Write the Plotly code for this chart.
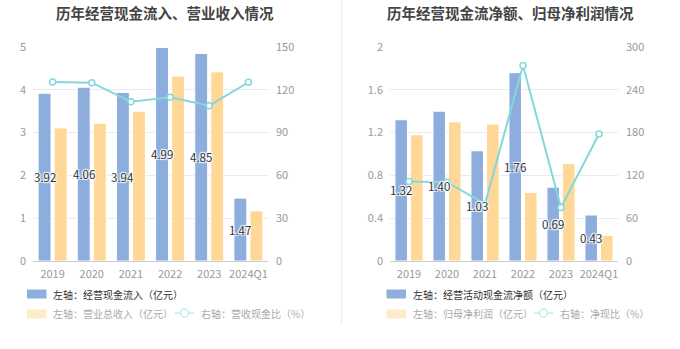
import plotly.graph_objects as go

W, H = 680, 349
FONT = "Noto Sans CJK SC, sans-serif"

categories = ["2019", "2020", "2021", "2022", "2023", "2024Q1"]

# Left chart
cash_inflow = [3.92, 4.06, 3.94, 4.99, 4.85, 1.47]
revenue = [3.11, 3.22, 3.50, 4.32, 4.42, 1.17]
cash_rev_ratio = [125.5, 125.0, 111.7, 114.7, 108.9, 125.3]

# Right chart
net_cash = [1.32, 1.40, 1.03, 1.76, 0.69, 0.43]
net_profit = [1.18, 1.30, 1.28, 0.64, 0.91, 0.24]
net_ratio = [111.5, 110.5, 80.0, 274.0, 75.0, 178.0]

left_y_ticks = [0, 1, 2, 3, 4, 5]
left_y2_ticks = [0, 30, 60, 90, 120, 150]
right_y_ticks = [0, 0.4, 0.8, 1.2, 1.6, 2]
right_y2_ticks = [0, 60, 120, 180, 240, 300]

BLUE = "#8DAEDD"
ORANGE = "#FFD897"
TEAL = "#84D8DB"
HALO = "1px 1px 1px #fff, -1px -1px 1px #fff, 1px -1px 1px #fff, -1px 1px 1px #fff"

fig = go.Figure()
annotations = []

def add_chart(xa, ya, ya2, bars, bars2, line, shift):
    fig.add_trace(go.Bar(
        x=categories, y=bars, xaxis=xa, yaxis=ya,
        offset=-0.37, width=0.33,
        marker=dict(color=BLUE, line=dict(color="#fff", width=1)),
        showlegend=False, hoverinfo="skip"))
    fig.add_trace(go.Bar(
        x=categories, y=bars2, xaxis=xa, yaxis=ya,
        offset=0.04, width=0.33,
        marker=dict(color=ORANGE, line=dict(color="#fff", width=1)),
        showlegend=False, hoverinfo="skip"))
    fig.add_trace(go.Scatter(
        x=categories, y=line, xaxis=xa, yaxis=ya2, mode="lines+markers",
        line=dict(color=TEAL, width=2),
        marker=dict(symbol="circle", size=6, color="#fff",
                    line=dict(color=TEAL, width=1.5)),
        showlegend=False, hoverinfo="skip"))
    for i, v in enumerate(bars):
        annotations.append(dict(
            xref=xa, yref=ya, x=i, y=v / 2, xshift=shift, text=f"{v:.2f}",
            showarrow=False, xanchor="center", yanchor="middle",
            font=dict(color="#333", size=11.5, family=FONT, shadow=HALO)))

add_chart("x", "y", "y2", cash_inflow, revenue, cash_rev_ratio, -8)
add_chart("x2", "y3", "y4", net_cash, net_profit, net_ratio, -7.7)

ydom = [1 - 261 / H, 1 - 47 / H]
tickfont = dict(color="#999", size=11, family=FONT)
grid = "#E6EAF3"

def xax(dom, anchor):
    return dict(domain=dom, anchor=anchor, type="category", showline=True,
                categoryorder="array", categoryarray=categories,
                range=[-0.5, len(categories) - 0.5], autorange=False,
                linecolor="#ccc", linewidth=1, ticks="", tickfont=tickfont,
                showgrid=False, fixedrange=True, automargin=False,
                ticklabelstandoff=3)

def yax(anchor, vals, rng, side="left", overlay=None):
    d = dict(anchor=anchor, range=rng, autorange=False, tickvals=vals, tickfont=tickfont,
             showline=False, zeroline=False, ticks="", side=side,
             fixedrange=True, automargin=False,
             ticklabelstandoff=6 if side == "left" else 7)
    if overlay:
        d.update(overlaying=overlay, showgrid=False)
    else:
        d.update(domain=ydom, showgrid=True, gridcolor=grid, gridwidth=1)
    return d

fig.update_layout(
    width=W, height=H, margin=dict(l=0, r=0, t=0, b=0, autoexpand=False),
    paper_bgcolor="#fff", plot_bgcolor="#fff",
    barmode="overlay",
    font=dict(family=FONT),
    xaxis=xax([33 / W, 268 / W], "y"),
    yaxis=yax("x", left_y_ticks, [0, 5]),
    yaxis2=yax("x", left_y2_ticks, [0, 150], side="right", overlay="y"),
    xaxis2=xax([390 / W, 618 / W], "y3"),
    yaxis3=yax("x2", right_y_ticks, [0, 2]),
    yaxis4=yax("x2", right_y2_ticks, [0, 300], side="right", overlay="y3"),
)

def px(x):
    return x / W

def py(y):
    return 1 - y / H

shapes = [dict(type="line", xref="paper", yref="paper", x0=px(341.5), x1=px(341.5),
               y0=py(0), y1=py(325), line=dict(color="#F3F3F3", width=2))]

# Titles
for cx, t in [(165, "历年经营现金流入、营业收入情况"), (510, "历年经营现金流净额、归母净利润情况")]:
    annotations.append(dict(xref="paper", yref="paper", x=px(cx), y=py(12),
                            text=f"<b>{t}</b>", showarrow=False, xanchor="center",
                            yanchor="middle", font=dict(size=14.5, color="#444", family=FONT)))

def legend(x0, row1, row2_rect, row2_line):
    shapes.append(dict(type="rect", xref="paper", yref="paper",
                       x0=px(x0), x1=px(x0 + 19.5), y0=py(298.5), y1=py(289.5),
                       fillcolor="#8FB0DE", line=dict(width=0), layer="above"))
    annotations.append(dict(xref="paper", yref="paper", x=px(x0 + 24), y=py(294),
                            text=row1, showarrow=False, xanchor="left", yanchor="middle",
                            font=dict(size=10, color="#333", family=FONT)))
    shapes.append(dict(type="rect", xref="paper", yref="paper",
                       x0=px(x0), x1=px(x0 + 19.5), y0=py(318.5), y1=py(309.5),
                       fillcolor="#FFEBCB", line=dict(width=0), layer="above"))
    annotations.append(dict(xref="paper", yref="paper", x=px(x0 + 24), y=py(313.5),
                            text=row2_rect, showarrow=False, xanchor="left", yanchor="middle",
                            font=dict(size=10, color="#aaa", family=FONT)))
    lx = row2_line[0]
    shapes.append(dict(type="line", xref="paper", yref="paper",
                       x0=px(lx), x1=px(lx + 19), y0=py(313), y1=py(313),
                       line=dict(color="#BDEBEC", width=1.5)))
    shapes.append(dict(type="circle", xref="paper", yref="paper",
                       x0=px(lx + 5.5), x1=px(lx + 13.5), y0=py(317), y1=py(309),
                       fillcolor="#fff", line=dict(color="#BDEBEC", width=1.5)))
    annotations.append(dict(xref="paper", yref="paper", x=px(lx + 24), y=py(313.5),
                            text=row2_line[1], showarrow=False, xanchor="left", yanchor="middle",
                            font=dict(size=10, color="#aaa", family=FONT)))

legend(27, "左轴：经营现金流入（亿元）", "左轴：营业总收入（亿元）", (175, "右轴：营收现金比（%）"))
legend(386.5, "左轴：经营活动现金流净额（亿元）", "左轴：归母净利润（亿元）", (534, "右轴：净现比（%）"))

fig.update_layout(shapes=shapes, annotations=annotations)
fig.write_html("out.html")
